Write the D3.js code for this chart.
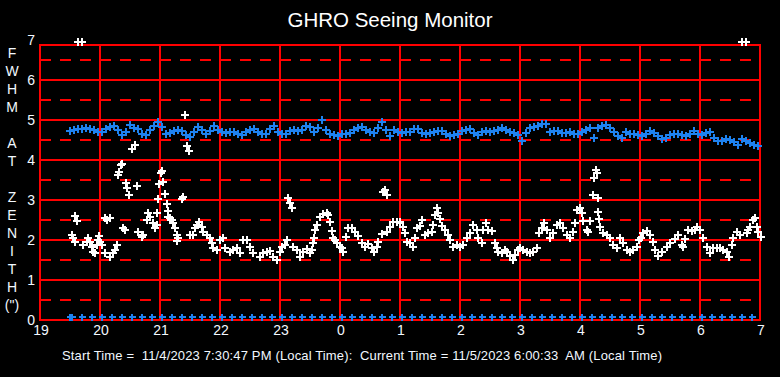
<!DOCTYPE html>
<html><head><meta charset="utf-8">
<script src="https://cdn.jsdelivr.net/npm/d3@7/dist/d3.min.js"></script>
<style>html,body{margin:0;padding:0;background:#000;}svg{display:block;}</style>
</head><body><svg id="c" width="780" height="377"></svg>
<script>
// ---- data ----
const titleText = "GHRO Seeing Monitor";
const yTitleLines = ["F","W","H","M","","A","T","","Z","E","N","I","T","H","(\")"];
const xTickMinutes = [0,60,120,180,240,300,360,420,480,540,600,660,720];
const xTickLabels = ["19","20","21","22","23","0","1","2","3","4","5","6","7"];
const yTickValues = [0,1,2,3,4,5,6,7];
const yTickLabels = ["0","1","2","3","4","5","6","7"];
const footerText = "Start Time =  11/4/2023 7:30:47 PM (Local Time):  Current Time = 11/5/2023 6:00:33  AM (Local Time)";

// blue series (sampled every 4 minutes starting 19:30)
const blueStartMin = 30, blueStepMin = 4;
const blueValues = [
4.73,4.76,4.78,4.77,4.79,4.77,4.74,4.70,4.70,4.77,4.83,4.86,4.76,4.63,4.69,4.88,4.79,4.78,4.64,4.63,
4.74,4.85,4.94,4.83,4.66,4.67,4.72,4.75,4.72,4.62,4.58,4.69,4.83,4.75,4.65,4.72,4.85,4.76,4.70,4.67,
4.70,4.71,4.66,4.62,4.70,4.76,4.78,4.70,4.66,4.65,4.78,4.86,4.70,4.65,4.66,4.72,4.75,4.73,4.76,4.84,
4.82,4.70,4.80,5.00,4.75,4.66,4.62,4.60,4.64,4.66,4.68,4.74,4.80,4.83,4.76,4.71,4.68,4.80,4.95,4.76,
4.59,4.76,4.70,4.67,4.69,4.70,4.77,4.78,4.68,4.65,4.67,4.70,4.72,4.73,4.66,4.60,4.62,4.66,4.72,4.76,
4.78,4.68,4.63,4.70,4.72,4.71,4.72,4.75,4.79,4.76,4.70,4.67,4.62,4.48,4.68,4.80,4.83,4.86,4.90,4.90,
4.70,4.72,4.72,4.67,4.68,4.70,4.66,4.66,4.70,4.74,4.79,4.56,4.80,4.86,4.87,4.80,4.70,4.60,4.56,4.70,
4.66,4.64,4.62,4.59,4.66,4.73,4.67,4.60,4.52,4.56,4.62,4.66,4.66,4.62,4.61,4.64,4.72,4.66,4.63,4.68,
4.70,4.54,4.47,4.48,4.53,4.50,4.46,4.38,4.52,4.48,4.43,4.37,4.35];

// blue markers drawn at the bottom (no measurement)
const blueZeroMin = [30,32,42,52,62,72,82,92,102,112,122,132,142,152,162,172,182,192,202,212,222,232,242,252,
262,272,282,292,302,312,322,332,342,352,362,372,382,392,402,412,422,432,442,452,462,472,482,492,502,512,
522,532,542,552,562,572,582,592,602,612,622,632,642,652,662,672,682,692,702,712];
const blueZeroValue = 0.07;

// white series: minutes since 19:00 and FWHM
const whiteMin = [
38,42,702,706,
32,33,35,35,37,43,47,48,50,52,53,55,57,58,59,60,62,65,70,73,75,77,65,67,70,83,85,
78,79,81,82,86,87,89,97,92,95,145,147,149,
98,102,103,108,110,107,113,115,117,117,118,119,121,122,123,125,127,128,128,130,132,133,135,137,138,137,142,143,
150,153,155,157,159,162,163,167,170,172,173,177,180,183,185,190,193,197,200,203,207,210,213,220,223,227,230,233,237,240,242,245,247,
248,250,252,253,257,260,263,267,270,272,273,274,275,277,280,283,287,288,290,292,293,295,297,300,302,303,306,308,312,315,318,322,325,328,332,334,337,338,342,347,350,353,357,360,343,345,347,
360,363,365,367,370,373,375,377,380,382,385,388,392,393,395,397,398,400,402,405,408,410,413,417,420,423,427,430,433,437,438,442,443,446,448,452,455,457,458,462,465,467,470,473,475,478,480,483,487,490,493,497,
499,502,504,507,510,513,517,520,523,527,530,533,535,537,540,542,543,547,548,550,553,554,556,557,558,558,559,560,563,567,570,573,577,580,583,587,590,593,597,599,601,603,607,610,613,615,618,622,627,630,635,638,642,643,645,648,652,655,657,660,663,667,670,673,677,680,683,687,689,692,693,697,700,707,708,710,713,715,717,718,721];
const whiteVal = [
6.95,6.95,6.95,6.95,
2.13,2.04,1.96,2.60,2.48,1.88,1.96,2.06,1.96,1.83,1.71,1.67,1.88,2.00,2.10,1.96,1.88,1.67,1.58,1.67,1.75,1.88,2.54,2.50,2.54,2.29,2.25,
3.62,3.71,3.87,3.90,3.42,3.29,3.12,3.35,4.28,4.38,5.12,4.35,4.22,
2.21,2.08,2.12,2.67,2.58,2.50,2.42,2.29,2.38,2.67,3.02,3.40,3.67,3.73,3.46,3.14,2.89,2.73,2.58,2.54,2.50,2.42,2.29,2.13,2.06,1.98,3.02,3.08,
2.13,2.13,2.29,2.38,2.46,2.33,2.21,2.13,2.04,1.92,1.79,1.75,2.00,2.04,1.79,1.71,1.75,1.79,1.67,2.00,2.00,1.83,1.67,1.58,1.67,1.71,1.73,1.58,1.50,1.71,1.83,1.88,2.00,
3.04,2.93,2.79,1.83,1.75,1.58,1.71,1.77,1.67,1.75,1.92,2.06,2.25,2.38,2.58,2.65,2.67,2.63,2.46,2.23,2.06,2.00,1.92,1.83,1.79,1.71,2.08,2.29,2.29,2.21,2.10,1.92,1.83,1.90,1.79,1.71,1.83,1.96,2.15,2.21,2.33,2.46,2.46,2.42,3.20,3.25,3.12,
2.46,2.33,2.17,1.96,1.92,1.83,2.04,2.29,2.35,2.50,2.13,2.17,2.21,2.38,2.63,2.79,2.67,2.52,2.35,2.25,2.13,2.00,1.83,1.88,1.83,1.88,2.04,2.18,2.38,2.25,2.04,1.92,2.25,2.43,2.25,2.23,1.92,1.79,1.71,1.67,1.75,1.71,1.60,1.50,1.63,1.75,1.79,1.75,1.71,1.68,1.71,1.79,
2.17,2.29,2.43,2.25,2.04,2.17,2.38,2.42,2.29,2.13,2.06,2.21,2.42,2.75,2.79,2.67,2.48,2.25,2.21,2.48,3.12,3.54,3.75,3.67,3.04,2.71,2.52,2.33,2.17,2.13,2.06,1.88,1.81,2.04,1.92,1.75,1.71,1.75,1.83,2.00,2.04,2.17,2.23,2.13,1.96,1.75,1.60,1.71,1.83,1.92,2.02,2.13,1.88,1.83,2.02,2.25,2.23,2.25,2.32,2.25,2.04,1.83,1.67,1.79,1.79,1.79,1.75,1.71,1.58,1.88,2.06,2.21,2.13,2.18,2.25,2.33,2.50,2.54,2.33,2.21,2.08];

// ---- drawing ----
const svg = d3.select("#c");
svg.append("rect").attr("width",780).attr("height",377).attr("fill","#000");

const x = d3.scaleLinear().domain([0,720]).range([40,760]);
const y = d3.scaleLinear().domain([0,7]).range([320,40]);
const frameTop = 45;
const RED = "#ff0000", BLUE = "#1e82f0", WHITE = "#ffffff", TXT = "#f2f8ff";
const font = "'Liberation Sans', Arial, sans-serif";

const g = svg.append("g").attr("shape-rendering", "crispEdges");
// dashed half lines
const halfVals = d3.range(0.5, 7, 1);
g.selectAll("line.half").data(halfVals).join("line")
  .attr("x1", x(0)).attr("x2", x(720))
  .attr("y1", d => y(d)).attr("y2", d => y(d))
  .attr("stroke", RED).attr("stroke-width", 2).attr("stroke-dasharray", "11,9");
// solid horizontal lines
g.selectAll("line.h").data([1,2,3,4,5,6]).join("line")
  .attr("x1", x(0)).attr("x2", x(720))
  .attr("y1", d => y(d)).attr("y2", d => y(d))
  .attr("stroke", RED).attr("stroke-width", 2);
// vertical lines
g.selectAll("line.v").data(xTickMinutes.slice(1, -1)).join("line")
  .attr("x1", d => x(d)).attr("x2", d => x(d))
  .attr("y1", frameTop).attr("y2", y(0))
  .attr("stroke", RED).attr("stroke-width", 2);
// frame
g.append("rect").attr("x", x(0)).attr("y", frameTop)
  .attr("width", x(720) - x(0)).attr("height", y(0) - frameTop)
  .attr("fill", "none").attr("stroke", RED).attr("stroke-width", 2);

// markers
function drawPlus(data, color, half, sw) {
  const p = `M${-half},0H${half}M0,${-half}V${half}`;
  svg.append("g").attr("shape-rendering", "crispEdges").selectAll("path").data(data).join("path")
    .attr("d", p)
    .attr("transform", d => `translate(${Math.round(x(d[0]))},${Math.round(y(Math.min(d[1], 7)))})`)
    .attr("stroke", color).attr("stroke-width", sw).attr("fill", "none");
}
const blueData = blueValues.map((v, i) => [blueStartMin + i * blueStepMin, v]);
drawPlus(blueData, BLUE, 4, 2);
drawPlus(whiteMin.map((m, i) => [m, whiteVal[i]]), WHITE, 4, 2);
drawPlus(blueZeroMin.map(m => [m, blueZeroValue]), BLUE, 3.5, 1.3);

// title
svg.append("text").attr("x", 390).attr("y", 27).attr("text-anchor", "middle")
  .attr("font-family", font).attr("font-size", 20.5).attr("fill", WHITE).text(titleText);

// y tick labels
svg.append("g").selectAll("text").data(yTickValues).join("text")
  .attr("x", 35).attr("y", d => y(d) + 5).attr("text-anchor", "end")
  .attr("font-family", font).attr("font-size", 14).attr("fill", TXT)
  .text((d, i) => yTickLabels[i]);

// x tick labels
svg.append("g").selectAll("text").data(xTickMinutes).join("text")
  .attr("x", d => x(d) + 1).attr("y", 335).attr("text-anchor", "middle")
  .attr("font-family", font).attr("font-size", 14).attr("fill", TXT)
  .text((d, i) => xTickLabels[i]);

// y title (vertical letters)
svg.append("g").selectAll("text").data(yTitleLines).join("text")
  .attr("x", 12).attr("y", (d, i) => 58 + i * 18).attr("text-anchor", "middle")
  .attr("font-family", font).attr("font-size", 14).attr("fill", TXT)
  .text(d => d);

// footer
svg.append("text").attr("x", 62).attr("y", 360)
  .attr("font-family", font).attr("font-size", 13).attr("fill", TXT)
  .attr("xml:space", "preserve").style("white-space", "pre")
  .attr("textLength", 600).attr("lengthAdjust", "spacing")
  .text(footerText);
</script>
</body></html>
